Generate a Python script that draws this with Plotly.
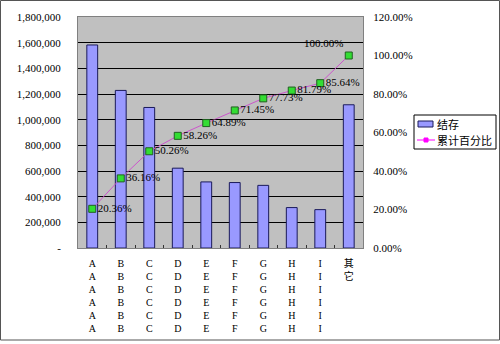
import plotly.graph_objects as go

# Inventory per product group (结存) and its Pareto share
categories = ["A", "B", "C", "D", "E", "F", "G", "H", "I", "其它"]
stock = [1582000, 1228000, 1095000, 622000, 515000, 510000, 488000, 315000, 299000, 1116000]
series_names = ["结存", "累计百分比"]

left_ticks = [0, 200000, 400000, 600000, 800000, 1000000, 1200000, 1400000, 1600000, 1800000]
left_labels = ["-"] + [f"{v:,}" for v in left_ticks[1:]]
right_ticks = [0, 20, 40, 60, 80, 100, 120]
right_labels = [f"{v:.2f}%" for v in right_ticks]

total = sum(stock)
cum_pct = []
running = 0
for v in stock:
    running += v
    cum_pct.append(running / total * 100)
pct_text = [f"{p:.2f}%" for p in cum_pct]
# the last label sits above-left of its point so it stays clear of the right axis
pct_pos = ["middle right"] * (len(cum_pct) - 1) + ["top left"]

# Category labels are stacked vertically, one character per line
def stacked(name):
    if len(name) == 1:
        return "<br>".join([name] * 6)
    return "<br>".join(list(name))

tick_text = [stacked(c) for c in categories]

W, H = 500, 344
ML, MR, MT, MB = 78, 137, 17, 96
PW, PH = W - ML - MR, H - MT - MB

BAR_FILL = "#9999FF"
BAR_EDGE = "#1a1a5a"
LINE_COLOR = "#CC55CC"

font_main = "Liberation Serif, Noto Sans CJK SC, serif"
font_cjk = "Noto Sans CJK SC, sans-serif"

def px(x):
    return (x - ML) / PW

def py(y):
    return 1 - (y - MT) / PH

fig = go.Figure()

fig.add_trace(go.Bar(
    x=categories, y=stock, name=series_names[0],
    marker=dict(color=BAR_FILL, line=dict(color=BAR_EDGE, width=1)),
    width=0.38,
))

fig.add_trace(go.Scatter(
    x=categories, y=cum_pct, yaxis="y2", name=series_names[1],
    mode="lines+markers+text",
    line=dict(color=LINE_COLOR, width=1),
    marker=dict(symbol="square", size=7, color="#33DD33", line=dict(color="#206020", width=1)),
    text=pct_text, textposition=pct_pos,
    textfont=dict(family=font_main, size=11, color="#000000"),
    cliponaxis=False,
))

# Outer chart frame
fig.add_shape(type="rect", xref="paper", yref="paper",
              x0=px(0.5), x1=px(W - 0.5), y0=py(H - 4), y1=py(0.5),
              line=dict(color="#555555", width=1), fillcolor="rgba(0,0,0,0)", layer="below")

# Compact legend box on the right
lx0, lx1, ly0, ly1 = 414, 496, 115, 149
row_y = [124, 140]
fig.add_shape(type="rect", xref="paper", yref="paper",
              x0=px(lx0), x1=px(lx1), y0=py(ly1), y1=py(ly0),
              line=dict(color="#000000", width=1), fillcolor="#FFFFFF")
fig.add_shape(type="rect", xref="paper", yref="paper",
              x0=px(418), x1=px(433), y0=py(row_y[0] + 3), y1=py(row_y[0] - 3),
              line=dict(color=BAR_EDGE, width=1), fillcolor=BAR_FILL)
fig.add_shape(type="line", xref="paper", yref="paper",
              x0=px(417), x1=px(435), y0=py(row_y[1]), y1=py(row_y[1]),
              line=dict(color="#FF00FF", width=1))
fig.add_shape(type="rect", xref="paper", yref="paper",
              x0=px(424), x1=px(428), y0=py(row_y[1] + 2), y1=py(row_y[1] - 2),
              line=dict(color="#FF00FF", width=1), fillcolor="#FF00FF")
for name, yy in zip(series_names, row_y):
    fig.add_annotation(x=px(436), y=py(yy), xref="paper", yref="paper",
                       text=name, showarrow=False, xanchor="left", yanchor="middle",
                       borderpad=0,
                       font=dict(family=font_cjk, size=11, color="#000000"))

fig.update_layout(
    width=W, height=H,
    margin=dict(l=ML, r=MR, t=MT, b=MB, pad=0, autoexpand=False),
    paper_bgcolor="#FFFFFF",
    plot_bgcolor="#C0C0C0",
    showlegend=False,
    bargap=0.62,
    font=dict(family=font_main, size=11, color="#000000"),
    xaxis=dict(
        type="category",
        tickvals=categories, ticktext=tick_text,
        tickfont=dict(family=font_main, size=10),
        showgrid=False,
        showline=True, linecolor="#808080", linewidth=1, mirror=True,
        ticks="inside", tickson="boundaries", ticklen=3, tickcolor="#333333",
        ticklabelstandoff=6,
        range=[-0.5, 9.5],
    ),
    yaxis=dict(
        range=[0, 1800000],
        tickvals=left_ticks, ticktext=left_labels,
        tickfont=dict(family=font_main, size=11),
        showgrid=True, gridcolor="#000000", gridwidth=1,
        zeroline=False,
        showline=True, linecolor="#808080", linewidth=1,
        ticks="", ticklabelstandoff=14,
    ),
    yaxis2=dict(
        range=[0, 120], overlaying="y", side="right",
        tickvals=right_ticks, ticktext=right_labels,
        tickfont=dict(family=font_main, size=11),
        showgrid=False, zeroline=False,
        showline=True, linecolor="#808080", linewidth=1,
        ticks="", ticklabelstandoff=7,
    ),
)

fig.write_html("out.html")
